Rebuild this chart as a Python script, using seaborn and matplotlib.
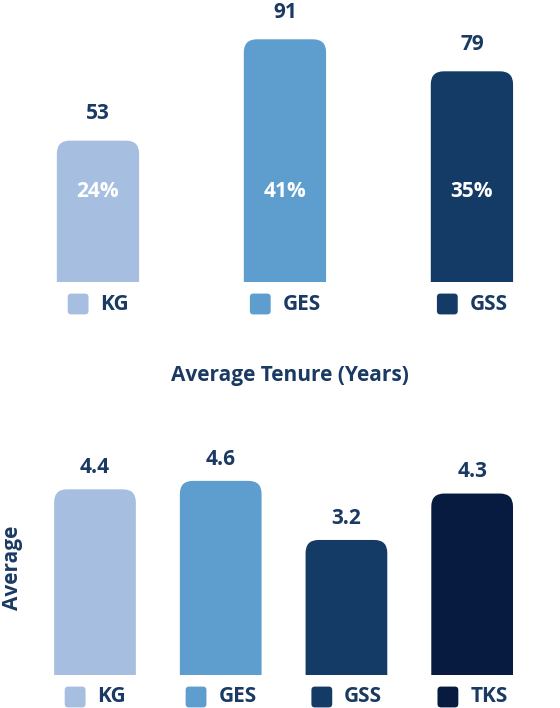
import pandas as pd
import matplotlib
matplotlib.use("Agg")
import matplotlib.pyplot as plt
import matplotlib.transforms as mtransforms
from matplotlib.patches import FancyBboxPatch
from matplotlib.offsetbox import DrawingArea, TextArea, HPacker, AnnotationBbox
import seaborn as sns

# Данные верхнего графика (численность)
top_groups = ["KG", "GES", "GSS"]
top_counts = [53, 91, 79]
top_shares = ["24%", "41%", "35%"]

# Данные нижнего графика (средний стаж)
tenure_groups = ["KG", "GES", "GSS", "TKS"]
tenure_values = [4.4, 4.6, 3.2, 4.3]

colors = {"KG": "#A6BFE0", "GES": "#5E9ECF", "GSS": "#143B66", "TKS": "#071A40"}
text_color = "#1A3A63"
FS = 15

sns.set_theme(style="white")
plt.rcParams["font.family"] = ["Open Sans", "DejaVu Sans"]
plt.rcParams["font.weight"] = "bold"

W, H = 560, 708
fig = plt.figure(figsize=(W / 100, H / 100), dpi=100)


def px_axes(left, top, width, height):
    # координаты в пикселях от верхнего левого угла
    return fig.add_axes([left / W, (H - top - height) / H, width / W, height / H])


def round_tops(ax, radius_px=13):
    # заменяем прямоугольники на прямоугольники со скруглённым верхом
    inv = ax.transData.inverted()
    p0 = inv.transform((0, 0))
    p1 = inv.transform((1, 1))
    ux, uy = p1[0] - p0[0], p1[1] - p0[1]
    rx = radius_px * ux
    ry = radius_px * uy
    bars = list(ax.patches)
    for bar in bars:
        x, w, h = bar.get_x(), bar.get_width(), bar.get_height()
        fc = bar.get_facecolor()
        bar.remove()
        ax.add_patch(FancyBboxPatch(
            (x, -2 * ry), w, h + 2 * ry,
            boxstyle=f"round,pad=0,rounding_size={rx}",
            mutation_aspect=uy / ux, facecolor=fc, edgecolor="none"))


def legend_under(ax, groups, y_px_below):
    trans = mtransforms.blended_transform_factory(ax.transData, ax.transAxes)
    for i, g in enumerate(groups):
        da = DrawingArea(16, 16, 0, 0)
        da.add_artist(FancyBboxPatch((0.5, 0.5), 15, 15,
                                     boxstyle="round,pad=0,rounding_size=2.5",
                                     facecolor=colors[g], edgecolor="none"))
        ta = TextArea(g, textprops=dict(color=text_color, fontsize=FS, fontweight="bold"))
        pack = HPacker(children=[da, ta], align="center", pad=0, sep=8)
        ab = AnnotationBbox(pack, (i, 0), xycoords=trans, xybox=(0, -y_px_below * 0.72),
                            boxcoords="offset points", frameon=False,
                            box_alignment=(0.5, 0.5), annotation_clip=False)
        ax.add_artist(ab)


def clean(ax):
    ax.set_xlabel("")
    ax.set_ylabel("")
    ax.set_xticks([])
    ax.set_yticks([])
    sns.despine(ax=ax, left=True, bottom=True)


# ---- Верхний график ----
df_top = pd.DataFrame({"group": top_groups, "count": top_counts})
ax1 = px_axes(0, 0, 560, 282)
sns.barplot(data=df_top, x="group", y="count", hue="group", palette=colors,
            legend=False, width=0.44, saturation=1, ax=ax1)
ax1.set_xlim(-0.524, 2.471)
ax1.set_ylim(0, 282 / 2.667)
clean(ax1)
round_tops(ax1)
for i, (v, s) in enumerate(zip(top_counts, top_shares)):
    ax1.annotate(str(v), (i, v), xytext=(0, 12), textcoords="offset points",
                 ha="center", va="bottom", color=text_color, fontsize=FS, fontweight="bold")
    ax1.text(i, 34, s, ha="center", va="center", color="white", fontsize=FS, fontweight="bold")
legend_under(ax1, top_groups, 22)

# ---- Нижний график ----
df_ten = pd.DataFrame({"group": tenure_groups, "years": tenure_values})
ax2 = px_axes(40, 420, 516, 255)
sns.barplot(data=df_ten, x="group", y="years", hue="group", palette=colors,
            legend=False, width=0.65, saturation=1, ax=ax2)
ax2.set_xlim(-0.4375, 3.667)
ax2.set_ylim(0, 255 / 42.2)
clean(ax2)
round_tops(ax2)
for i, v in enumerate(tenure_values):
    ax2.annotate(f"{v:.1f}", (i, v), xytext=(0, 8), textcoords="offset points",
                 ha="center", va="bottom", color=text_color, fontsize=FS, fontweight="bold")
ax2.set_ylabel("Average", color=text_color, fontsize=FS, fontweight="bold")
ax2.yaxis.set_label_coords(-0.033, 0.42)
legend_under(ax2, tenure_groups, 22)

fig.text(290 / W, 1 - 375 / H, "Average Tenure (Years)", ha="center", va="center",
         color=text_color, fontsize=FS, fontweight="bold")

fig.savefig("out.png", dpi=100)
